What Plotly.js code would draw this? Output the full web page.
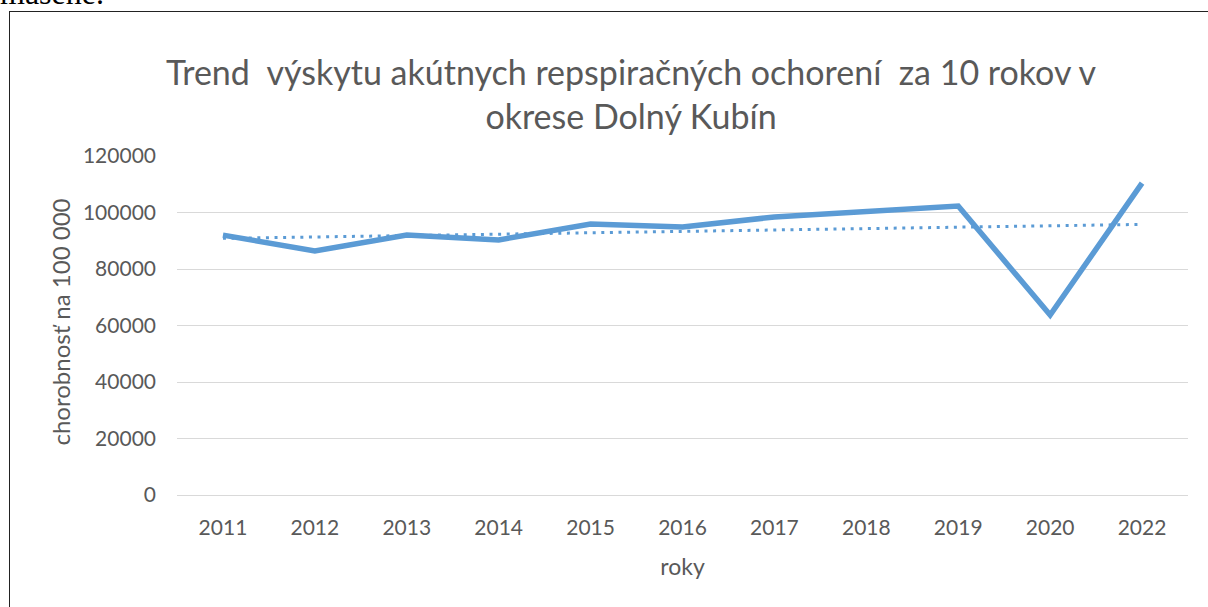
<!DOCTYPE html>
<html>
<head>
<meta charset="utf-8">
<script src="https://cdn.plot.ly/plotly-3.0.1.min.js"></script>
<style>
  html, body { margin: 0; padding: 0; width: 1208px; height: 607px; overflow: hidden; background: #fff; }
  #top { position: absolute; left: 0; top: -25px; font-family: "Liberation Serif", serif; font-size: 32px; color: #000; white-space: nowrap; }
  #frame { position: absolute; left: 9px; top: 11px; width: 1400px; height: 800px; border: 1.5px solid #222; box-sizing: border-box; }
  #chart { position: absolute; left: 0; top: 0; width: 1208px; height: 607px; }
</style>
</head>
<body>
<div id="top">masene.</div>
<div id="frame"></div>
<div id="chart"></div>
<script>
const years = ["2011","2012","2013","2014","2015","2016","2017","2018","2019","2020","2022"];
const morbidity = [92000, 86400, 92000, 90300, 95900, 94900, 98400, 100200, 102300, 63700, 110400];
const yTicks = [0, 20000, 40000, 60000, 80000, 100000, 120000];

// Linear trendline (least squares) computed from the series, like the spreadsheet's trendline
const n = morbidity.length;
const idx = morbidity.map((_, i) => i + 1);
const mx = idx.reduce((a, b) => a + b, 0) / n;
const my = morbidity.reduce((a, b) => a + b, 0) / n;
let sxy = 0, sxx = 0;
for (let i = 0; i < n; i++) { sxy += (idx[i] - mx) * (morbidity[i] - my); sxx += (idx[i] - mx) ** 2; }
const slope = sxy / sxx;
const trend = idx.map(x => my + slope * (x - mx));

const blue = "#5B9BD5";
const grey = "#595959";
const font = "Lato, 'Open Sans', sans-serif";

const traces = [
  { x: years, y: trend, type: "scatter", mode: "lines", line: { color: blue, width: 3, dash: "3px,5.6px" }, hoverinfo: "skip", showlegend: false },
  { x: years, y: morbidity, type: "scatter", mode: "lines", line: { color: blue, width: 5.5 }, showlegend: false }
];

const layout = {
  width: 1208, height: 607,
  paper_bgcolor: "rgba(0,0,0,0)", plot_bgcolor: "rgba(0,0,0,0)",
  margin: { l: 177, r: 20, t: 156, b: 112 },
  font: { family: font, color: grey },
  title: {
    text: "Trend  výskytu akútnych repspiračných ochorení  za 10 rokov v<br>okrese Dolný Kubín",
    font: { family: font, size: 34, color: grey },
    x: 631 / 1208, xanchor: "center", xref: "container",
    y: 1 - 85 / 607, yanchor: "top", yref: "container"
  },
  xaxis: {
    type: "category", range: [-0.5, 10.5],
    showgrid: false, zeroline: false, showline: false, ticks: "",
    tickfont: { family: font, size: 21, color: grey },
    ticklabelstandoff: 18,
    title: { text: "roky", font: { family: font, size: 23, color: grey }, standoff: 20 }
  },
  yaxis: {
    range: [0, 120000], tickvals: yTicks, ticktext: yTicks.map(String),
    showgrid: true, gridcolor: "#D9D9D9", gridwidth: 1,
    zeroline: true, zerolinecolor: "#D9D9D9", zerolinewidth: 1,
    showline: false, ticks: "",
    tickfont: { family: font, size: 21, color: grey },
    ticklabelstandoff: 20
  },
  annotations: [{
    text: "chorobnosť na 100 000", textangle: -90,
    xref: "paper", yref: "paper", x: 0, y: 0.5, xanchor: "center", yanchor: "middle",
    xshift: -117, yshift: 3, showarrow: false,
    font: { family: font, size: 24, color: grey }
  }]
};

Plotly.newPlot("chart", traces, layout, { displayModeBar: false, staticPlot: true });
</script>
</body>
</html>
